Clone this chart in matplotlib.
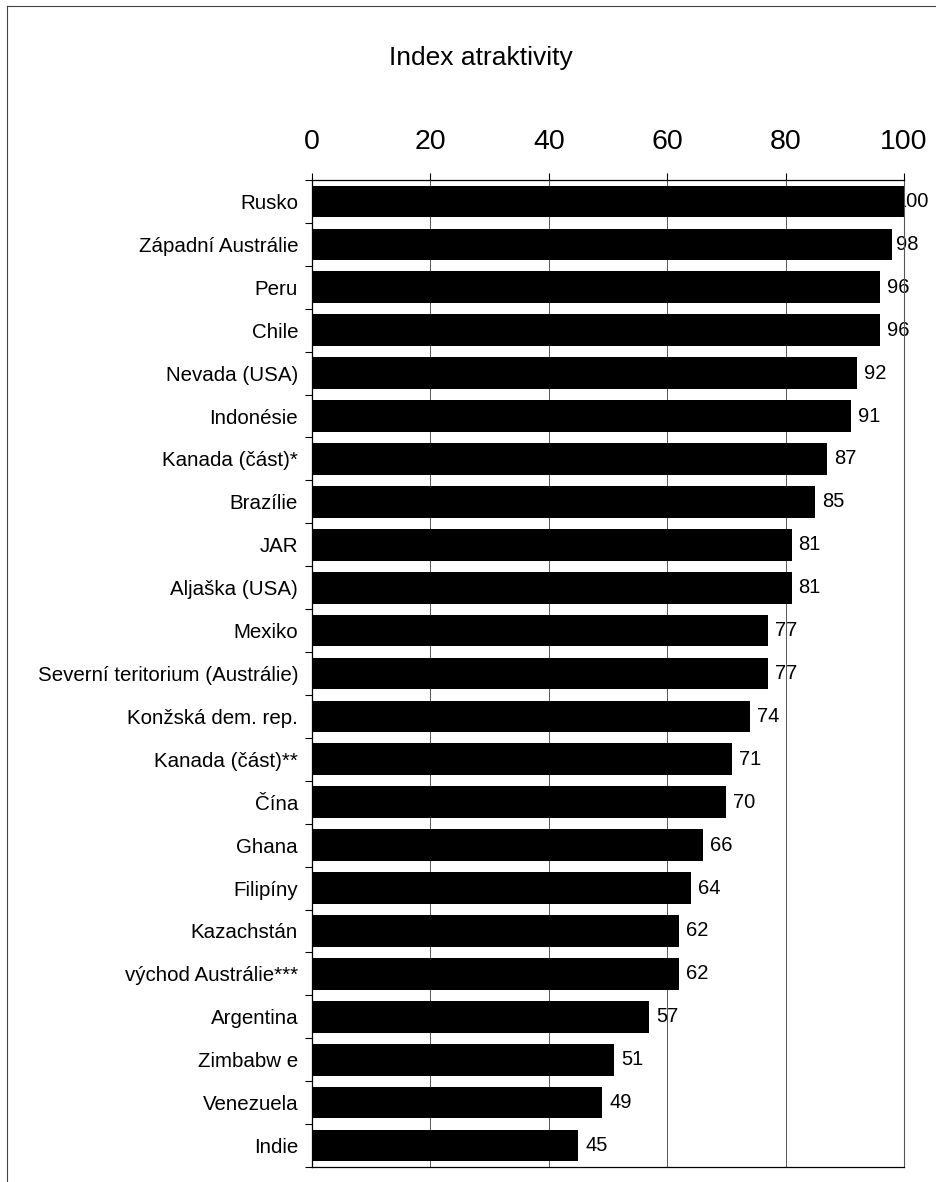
import matplotlib.pyplot as plt
import matplotlib.lines as mlines
import numpy as np

plt.rcParams['font.family'] = ['Liberation Sans', 'DejaVu Sans']

zeme = ["Rusko", "Západní Austrálie", "Peru", "Chile", "Nevada (USA)", "Indonésie",
        "Kanada (část)*", "Brazílie", "JAR", "Aljaška (USA)", "Mexiko",
        "Severní teritorium (Austrálie)", "Konžská dem. rep.", "Kanada (část)**",
        "Čína", "Ghana", "Filipíny", "Kazachstán", "východ Austrálie***",
        "Argentina", "Zimbabw e", "Venezuela", "Indie"]
index = [100, 98, 96, 96, 92, 91, 87, 85, 81, 81, 77, 77, 74, 71, 70, 66, 64,
         62, 62, 57, 51, 49, 45]
xticks = [0, 20, 40, 60, 80, 100]

fig = plt.figure(figsize=(9.36, 11.82), dpi=100)
ax = fig.add_axes([0.3333, 0.0127, 0.6325, 0.835])

y = np.arange(len(zeme))
ax.barh(y, index, height=0.74, color="black", zorder=3)

# popisky hodnot vpravo od sloupcu (u 100 posunuto, aby se veslo do obrazku)
for yi, v in zip(y, index):
    ax.text(min(v + 1.2, 98.6), yi, str(v), va="center", ha="left",
            fontsize=14.5, zorder=1)

ax.set_xlim(0, 100)
ax.set_ylim(len(zeme) - 0.5, -0.47)
ax.xaxis.tick_top()
ax.set_xticks(xticks)
ax.set_xticklabels([str(t) for t in xticks], fontsize=20.5)
ax.tick_params(axis="x", direction="out", length=5, width=0.8, pad=13, colors="black")

ax.set_yticks(y)
ax.set_yticklabels(zeme, fontsize=14.8)
ax.tick_params(axis="y", which="major", length=0, pad=10)
ax.set_yticks(np.arange(len(zeme) + 1) - 0.5, minor=True)
ax.tick_params(axis="y", which="minor", length=5, width=0.8, direction="out")

ax.grid(axis="x", color="#555555", linewidth=0.7, zorder=2)
ax.set_axisbelow(False)
for s in ["top", "bottom", "left"]:
    ax.spines[s].set_linewidth(0.9)
    ax.spines[s].set_zorder(4)
ax.spines["right"].set_color("#555555")
ax.spines["right"].set_linewidth(0.8)
ax.spines["right"].set_zorder(2)

fig.text(0.514, 0.951, "Index atraktivity", ha="center", va="center", fontsize=19)

# ramecek kolem grafu
fig.add_artist(mlines.Line2D([0.0075, 0.0075], [0.0, 0.995], color="#444444", lw=0.8,
                             transform=fig.transFigure))
fig.add_artist(mlines.Line2D([0.0075, 1.0], [0.995, 0.995], color="#444444", lw=0.8,
                             transform=fig.transFigure))

fig.savefig("out.png", dpi=100)
